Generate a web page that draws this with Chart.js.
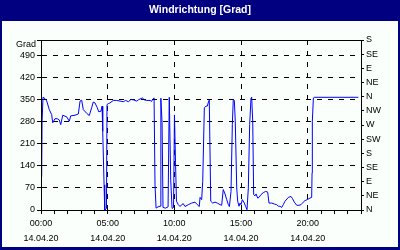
<!DOCTYPE html>
<html>
<head>
<meta charset="utf-8">
<script src="https://cdn.jsdelivr.net/npm/chart.js@4"></script>
<style>
  html, body { margin: 0; padding: 0; background: #000080; }
  #wrap { width: 400px; height: 250px; }
</style>
</head>
<body>
<div id="wrap"><canvas id="windChart" width="400" height="250"></canvas></div>
<script>
const chartTitle = 'Windrichtung [Grad]'
const dateLabel = '14.04.20'
const axisUnit = 'Grad'
const axisMax = 540

// hours since 00:00 and wind direction in degrees
const hours = [
  0.05, 0.08, 0.15, 0.30, 0.43, 0.62, 0.80, 0.88, 1.05, 1.22, 1.37, 1.48, 1.63, 1.93, 2.12, 2.23,
  2.55, 2.80, 2.93, 3.05, 3.17, 3.43, 3.62, 3.80, 3.92, 4.05, 4.22, 4.33, 4.50, 4.58, 4.63, 4.73,
  4.78, 4.91, 4.95, 5.05, 5.17, 5.42, 5.68, 5.93, 6.17, 6.35, 6.55, 6.75, 6.92, 7.18, 7.30, 7.60,
  7.75, 7.93, 8.18, 8.30, 8.38, 8.48, 8.55, 8.63, 8.78, 8.93, 8.99, 9.08, 9.15, 9.34, 9.53, 9.62,
  9.73, 9.83, 9.94, 10.01, 10.09, 10.16, 10.30, 10.43, 10.55, 10.67, 10.80, 11.05, 11.30, 11.55, 11.72, 11.87,
  11.93, 12.05, 12.13, 12.25, 12.38, 12.47, 12.58, 12.62, 12.73, 12.88, 13.05, 13.22, 13.43, 13.55, 13.67, 13.80,
  13.93, 14.05, 14.13, 14.25, 14.35, 14.42, 14.50, 14.57, 14.68, 14.75, 14.85, 14.93, 15.00, 15.10, 15.25, 15.35,
  15.45, 15.55, 15.65, 15.75, 15.80, 15.88, 15.95, 16.05, 16.13, 16.25, 16.35, 16.50, 16.67, 16.85, 17.00, 17.10,
  17.30, 17.50, 17.68, 17.80, 17.93, 18.05, 18.17, 18.30, 18.55, 18.75, 18.85, 19.00, 19.18, 19.35, 19.50, 19.67,
  19.80, 19.97, 20.18, 20.30, 20.33, 20.35, 20.43, 20.50, 23.80
]
const degrees = [
  105, 280, 358, 354, 346, 319, 303, 277, 290, 290, 286, 271, 301, 296, 282, 299,
  301, 305, 346, 349, 319, 307, 300, 325, 343, 340, 325, 312, 314, 330, 250, 80,
  0, 5, 335, 338, 340, 348, 348, 346, 344, 348, 344, 351, 350, 346, 350, 356,
  350, 348, 348, 345, 352, 356, 80, 6, 10, 12, 355, 277, 8, 6, 10, 358,
  95, 5, 8, 302, 150, 28, 17, 11, 17, 20, 11, 17, 22, 25, 17, 11,
  40, 33, 91, 325, 330, 330, 346, 349, 28, 22, 25, 22, 17, 15, 65, 51,
  33, 17, 11, 59, 271, 351, 348, 282, 70, 28, 12, 22, 17, 33, 22, 11,
  1, 70, 271, 356, 358, 282, 49, 45, 51, 38, 40, 49, 55, 59, 57, 22,
  22, 19, 17, 12, 12, 8, 17, 28, 40, 43, 37, 25, 15, 15, 17, 25,
  30, 33, 38, 40, 118, 282, 356, 358, 358
]

const gradTicks = [0, 70, 140, 210, 280, 350, 420, 490]
const compassTicks = [0, 45, 90, 135, 180, 225, 270, 315, 360, 405, 450, 495, 540]
const compassNames = ['N', 'NE', 'E', 'SE', 'S', 'SW', 'W', 'NW']
const hourTicks = [0, 1, 2, 3, 4, 5, 6, 7, 8, 9, 10, 11, 12, 13, 14, 15, 16, 17, 18, 19, 20, 21, 22, 23, 24]
const labelHours = [0, 5, 10, 15, 20]

const fontFamily = '"Liberation Sans", Arial, sans-serif'
const tickFont = { family: fontFamily, size: 9 }

const framePlugin = {
  id: 'frame',
  beforeDraw(chart) {
    const ctx = chart.ctx
    ctx.save()
    ctx.fillStyle = '#000080'
    ctx.fillRect(0, 0, 400, 250)
    ctx.fillStyle = '#fbfffb'
    ctx.fillRect(2, 21, 396, 226)
    ctx.fillStyle = '#ffffff'
    ctx.font = 'bold 10.5px ' + fontFamily
    ctx.textAlign = 'center'
    ctx.textBaseline = 'middle'
    ctx.fillText(chartTitle, 200, 10)
    ctx.restore()
  },
  afterDraw(chart) {
    const a = chart.chartArea
    const ctx = chart.ctx
    ctx.save()
    ctx.strokeStyle = '#000000'
    ctx.lineWidth = 1
    ctx.strokeRect(Math.round(a.left) + 0.5, Math.round(a.top) + 0.5,
      Math.round(a.right - a.left), Math.round(a.bottom - a.top))
    // unit label sits a little below the top of the left axis
    ctx.fillStyle = '#000000'
    ctx.font = '9px ' + fontFamily
    ctx.textAlign = 'right'
    ctx.textBaseline = 'middle'
    ctx.fillText(axisUnit, a.left - 5, a.top + 5)
    ctx.restore()
  }
}

function hourLabel(h) {
  return (h < 10 ? '0' : '') + h + ':00'
}

new Chart(document.getElementById('windChart'), {
  type: 'line',
  data: {
    datasets: [{
      data: hours.map((h, i) => ({ x: h, y: degrees[i] })),
      borderColor: '#0000ff',
      borderWidth: 1,
      pointRadius: 0,
      tension: 0,
      fill: false
    }]
  },
  options: {
    responsive: false,
    animation: false,
    devicePixelRatio: 1,
    layout: { padding: { top: 40, left: 0, right: 0, bottom: 0 } },
    plugins: {
      legend: { display: false },
      tooltip: { enabled: false },
      title: { display: false }
    },
    scales: {
      x: {
        type: 'linear',
        min: 0,
        max: 24,
        afterBuildTicks: (scale) => { scale.ticks = hourTicks.map(v => ({ value: v })) },
        afterFit: (scale) => { scale.height = 40 },
        ticks: {
          autoSkip: false,
          maxRotation: 0,
          color: '#000000',
          padding: 2,
          font: { ...tickFont, lineHeight: 1.67 },
          callback: (v) => labelHours.includes(v) ? [hourLabel(v), dateLabel] : ''
        },
        grid: {
          color: (c) => (c.tick && labelHours.includes(c.tick.value) && c.tick.value !== 0) ? '#000000' : 'rgba(0,0,0,0)',
          tickColor: '#000000',
          tickLength: 4
        },
        border: { display: true, color: '#000000', dash: [5, 6] }
      },
      y: {
        position: 'left',
        min: 0,
        max: axisMax,
        afterBuildTicks: (scale) => { scale.ticks = gradTicks.concat([axisMax]).map(v => ({ value: v })) },
        afterFit: (scale) => { scale.width = 41 },
        ticks: {
          color: '#000000',
          padding: 2,
          font: tickFont,
          callback: (v) => v === axisMax ? '' : String(v)
        },
        grid: {
          color: (c) => (c.tick && c.tick.value !== 0 && c.tick.value !== axisMax) ? '#000000' : 'rgba(0,0,0,0)',
          tickColor: '#000000',
          tickLength: 4
        },
        border: { display: true, color: '#000000', dash: [5, 6] }
      },
      y2: {
        position: 'right',
        min: 0,
        max: axisMax,
        afterBuildTicks: (scale) => { scale.ticks = compassTicks.map(v => ({ value: v })) },
        afterFit: (scale) => { scale.width = 39 },
        ticks: {
          color: '#000000',
          padding: 2,
          font: tickFont,
          callback: (v) => compassNames[Math.round(v / 45) % 8]
        },
        grid: {
          drawOnChartArea: false,
          tickColor: '#000000',
          tickLength: 3
        },
        border: { display: true, color: '#000000' }
      }
    }
  },
  plugins: [framePlugin]
})
</script>
</body>
</html>
